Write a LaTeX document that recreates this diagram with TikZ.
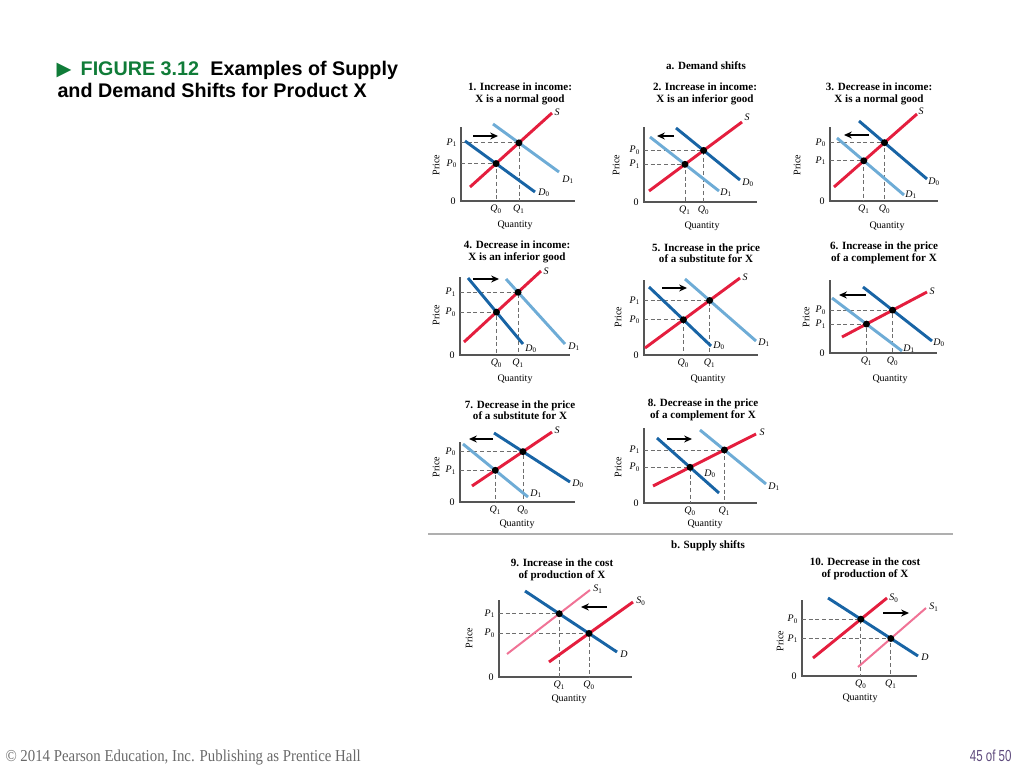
\documentclass[tikz,border=0pt]{standalone}
\usepackage{fontspec}
\setmainfont{Liberation Serif}
\newfontfamily\headfont{Liberation Sans}
\newfontfamily\symbolfont{DejaVu Sans}
\newcommand{\sublab}[2]{\textit{#1}\textsubscript{#2}}

\tikzset{every picture/.style={line width=0.75pt}}
\tikzset{
  axisline/.style={draw={rgb, 255:red, 85; green, 85; blue, 85}, line width=0.8},
  guide/.style={draw={rgb, 255:red, 110; green, 110; blue, 110}, line width=0.6, dash pattern={on 3pt off 2pt}},
  supplyline/.style={draw={rgb, 255:red, 228; green, 30; blue, 62}, line width=2.2},
  newsupply/.style={draw={rgb, 255:red, 240; green, 115; blue, 150}, line width=1.5},
  olddemand/.style={draw={rgb, 255:red, 24; green, 100; blue, 165}, line width=2.2},
  newdemand/.style={draw={rgb, 255:red, 110; green, 172; blue, 214}, line width=2.2},
  eqdot/.style={fill=black},
  lab/.style={font=\fontsize{7.5}{8}\selectfont, inner sep=0pt},
  plab/.style={lab, anchor=east, outer xsep=3pt},
  qlab/.style={lab, anchor=north, outer ysep=3pt},
  zerolab/.style={lab, anchor=east, outer xsep=4pt},
  charttitle/.style={font=\fontsize{8.3}{8.6}\selectfont\bfseries, align=center, inner sep=0pt},
  tipshape/.style={fill=black, line width=0.08, draw opacity=0},
}

\begin{document}
\begin{tikzpicture}[x=0.75pt,y=0.75pt,yscale=-1,xscale=1]
	\useasboundingbox (0,0) rectangle (1024,767);

	% Heading
	\node [anchor=base west, inner sep=0pt, font=\headfont\bfseries\fontsize{14.8}{17}\selectfont] (head1) at (56,75) {{\color[RGB]{16,124,56}{\symbolfont\fontsize{14.5}{14.5}\selectfont ▶}\hspace{7pt}FIGURE 3.12}\hspace{8.5pt}Examples of Supply};
	\node [anchor=base west, inner sep=0pt, font=\headfont\bfseries\fontsize{14.8}{17}\selectfont] (head2) at (57,98) {and Demand Shifts for Product X};

	% Section titles
	\node [charttitle] (secA) at (706,66) {a. Demand shifts};
	\node [charttitle] (secB) at (708,546) {b. Supply shifts};
	%Straight Lines (separator)
	\draw [draw={rgb, 255:red, 175; green, 175; blue, 175}, line width=1.5] (428,534) -- (953,534);

	%----- Panel 1
	\node [charttitle] (t1) at (520,94) {1. Increase in income:\\X is a normal good};
	\coordinate (o1) at (461,201);
	\draw [axisline] (461,127) -- (o1) -- (575,201);
	\coordinate (s1a) at (470,187); \coordinate (s1b) at (552,113);
	\coordinate (d1a) at (465,141); \coordinate (d1b) at (535,192);
	\coordinate (n1a) at (493,124); \coordinate (n1b) at (559,172);
	\coordinate (e1o) at (intersection of s1a--s1b and d1a--d1b);
	\coordinate (e1n) at (intersection of s1a--s1b and n1a--n1b);
	\draw [guide] (e1o -| o1) -- (e1o) -- (e1o |- o1);
	\draw [guide] (e1n -| o1) -- (e1n) -- (e1n |- o1);
	\draw [olddemand] (d1a) -- (d1b);
	\draw [newdemand] (n1a) -- (n1b);
	\draw [supplyline] (s1a) -- (s1b);
	\fill [eqdot] (e1o) circle (2.6pt);
	\fill [eqdot] (e1n) circle (2.6pt);
	\draw [line width=1.2] (473,136) -- (494,136);
	\draw [shift={(498,136)}, rotate = 180] [tipshape] (8,-3.6) -- (0,0) -- (8,3.6) -- (5.3,0) -- cycle;
	\node [plab] (p1o) at (e1o -| o1) {\sublab{P}{0}};
	\node [plab] (p1n) at (e1n -| o1) {\sublab{P}{1}};
	\node [qlab] (q1o) at (e1o |- o1) {\sublab{Q}{0}};
	\node [qlab] (q1n) at (e1n |- o1) {\sublab{Q}{1}};
	\node [zerolab] (z1) at (o1) {0};
	\node [lab, rotate=90] (y1) at (436,165) {Price};
	\node [lab] (x1) at (515,225) {Quantity};
	\node [lab] (ls1) at (557,112) {\textit{S}};
	\node [lab] (ld1o) at (544,193) {\sublab{D}{0}};
	\node [lab] (ld1n) at (568,180) {\sublab{D}{1}};

	%----- Panel 2
	\node [charttitle] (t2) at (705,94) {2. Increase in income:\\X is an inferior good};
	\coordinate (o2) at (644,202);
	\draw [axisline] (644,127) -- (o2) -- (757,202);
	\coordinate (s2a) at (649,191); \coordinate (s2b) at (742,122);
	\coordinate (d2a) at (676,128); \coordinate (d2b) at (740,180);
	\coordinate (n2a) at (650,137); \coordinate (n2b) at (719,191);
	\coordinate (e2o) at (intersection of s2a--s2b and d2a--d2b);
	\coordinate (e2n) at (intersection of s2a--s2b and n2a--n2b);
	\draw [guide] (e2o -| o2) -- (e2o) -- (e2o |- o2);
	\draw [guide] (e2n -| o2) -- (e2n) -- (e2n |- o2);
	\draw [olddemand] (d2a) -- (d2b);
	\draw [newdemand] (n2a) -- (n2b);
	\draw [supplyline] (s2a) -- (s2b);
	\fill [eqdot] (e2o) circle (2.6pt);
	\fill [eqdot] (e2n) circle (2.6pt);
	\draw [line width=1.2] (674,136) -- (661,136);
	\draw [shift={(657,136)}, rotate = 360] [tipshape] (8,-3.6) -- (0,0) -- (8,3.6) -- (5.3,0) -- cycle;
	\node [plab] (p2o) at (e2o -| o2) {\sublab{P}{0}};
	\node [plab] (p2n) at (e2n -| o2) {\sublab{P}{1}};
	\node [qlab] (q2o) at (e2o |- o2) {\sublab{Q}{0}};
	\node [qlab] (q2n) at (e2n |- o2) {\sublab{Q}{1}};
	\node [zerolab] (z2) at (o2) {0};
	\node [lab, rotate=90] (y2) at (616,165) {Price};
	\node [lab] (x2) at (702,226) {Quantity};
	\node [lab] (ls2) at (747,117) {\textit{S}};
	\node [lab] (ld2o) at (748,183) {\sublab{D}{0}};
	\node [lab] (ld2n) at (726,193) {\sublab{D}{1}};

	%----- Panel 3
	\node [charttitle] (t3) at (879,94) {3. Decrease in income:\\X is a normal good};
	\coordinate (o3) at (830,201);
	\draw [axisline] (830,127) -- (o3) -- (938,201);
	\coordinate (s3a) at (834,187); \coordinate (s3b) at (917,114);
	\coordinate (d3a) at (859,121); \coordinate (d3b) at (927,179);
	\coordinate (n3a) at (837,138); \coordinate (n3b) at (904,195);
	\coordinate (e3o) at (intersection of s3a--s3b and d3a--d3b);
	\coordinate (e3n) at (intersection of s3a--s3b and n3a--n3b);
	\draw [guide] (e3o -| o3) -- (e3o) -- (e3o |- o3);
	\draw [guide] (e3n -| o3) -- (e3n) -- (e3n |- o3);
	\draw [olddemand] (d3a) -- (d3b);
	\draw [newdemand] (n3a) -- (n3b);
	\draw [supplyline] (s3a) -- (s3b);
	\fill [eqdot] (e3o) circle (2.6pt);
	\fill [eqdot] (e3n) circle (2.6pt);
	\draw [line width=1.2] (869,135) -- (848,135);
	\draw [shift={(844,135)}, rotate = 360] [tipshape] (8,-3.6) -- (0,0) -- (8,3.6) -- (5.3,0) -- cycle;
	\node [plab] (p3o) at (e3o -| o3) {\sublab{P}{0}};
	\node [plab] (p3n) at (e3n -| o3) {\sublab{P}{1}};
	\node [qlab] (q3o) at (e3o |- o3) {\sublab{Q}{0}};
	\node [qlab] (q3n) at (e3n |- o3) {\sublab{Q}{1}};
	\node [zerolab] (z3) at (o3) {0};
	\node [lab, rotate=90] (y3) at (797,165) {Price};
	\node [lab] (x3) at (887,226) {Quantity};
	\node [lab] (ls3) at (921,111) {\textit{S}};
	\node [lab] (ld3o) at (934,182) {\sublab{D}{0}};
	\node [lab] (ld3n) at (911,195) {\sublab{D}{1}};

	%----- Panel 4
	\node [charttitle] (t4) at (517,252) {4. Decrease in income:\\X is an inferior good};
	\coordinate (o4) at (460,355);
	\draw [axisline] (460,277) -- (o4) -- (570,355);
	\coordinate (s4a) at (464,342); \coordinate (s4b) at (541,271);
	\coordinate (d4a) at (468,278); \coordinate (d4b) at (523,344);
	\coordinate (n4a) at (506,279); \coordinate (n4b) at (565,344);
	\coordinate (e4o) at (intersection of s4a--s4b and d4a--d4b);
	\coordinate (e4n) at (intersection of s4a--s4b and n4a--n4b);
	\draw [guide] (e4o -| o4) -- (e4o) -- (e4o |- o4);
	\draw [guide] (e4n -| o4) -- (e4n) -- (e4n |- o4);
	\draw [olddemand] (d4a) -- (d4b);
	\draw [newdemand] (n4a) -- (n4b);
	\draw [supplyline] (s4a) -- (s4b);
	\fill [eqdot] (e4o) circle (2.6pt);
	\fill [eqdot] (e4n) circle (2.6pt);
	\draw [line width=1.2] (473,279) -- (495,279);
	\draw [shift={(499,279)}, rotate = 180] [tipshape] (8,-3.6) -- (0,0) -- (8,3.6) -- (5.3,0) -- cycle;
	\node [plab] (p4o) at (e4o -| o4) {\sublab{P}{0}};
	\node [plab] (p4n) at (e4n -| o4) {\sublab{P}{1}};
	\node [qlab] (q4o) at (e4o |- o4) {\sublab{Q}{0}};
	\node [qlab] (q4n) at (e4n |- o4) {\sublab{Q}{1}};
	\node [zerolab] (z4) at (o4) {0};
	\node [lab, rotate=90] (y4) at (436,315) {Price};
	\node [lab] (x4) at (515,379) {Quantity};
	\node [lab] (ls4) at (546,271) {\textit{S}};
	\node [lab] (ld4o) at (531,349) {\sublab{D}{0}};
	\node [lab] (ld4n) at (574,347) {\sublab{D}{1}};

	%----- Panel 5
	\node [charttitle] (t5) at (706,253) {5. Increase in the price\\of a substitute for X};
	\coordinate (o5) at (644,355);
	\draw [axisline] (644,280) -- (o5) -- (758,355);
	\coordinate (s5a) at (645,348); \coordinate (s5b) at (740,278);
	\coordinate (d5a) at (649,287); \coordinate (d5b) at (711,346);
	\coordinate (n5a) at (685,279); \coordinate (n5b) at (756,341);
	\coordinate (e5o) at (intersection of s5a--s5b and d5a--d5b);
	\coordinate (e5n) at (intersection of s5a--s5b and n5a--n5b);
	\draw [guide] (e5o -| o5) -- (e5o) -- (e5o |- o5);
	\draw [guide] (e5n -| o5) -- (e5n) -- (e5n |- o5);
	\draw [olddemand] (d5a) -- (d5b);
	\draw [newdemand] (n5a) -- (n5b);
	\draw [supplyline] (s5a) -- (s5b);
	\fill [eqdot] (e5o) circle (2.6pt);
	\fill [eqdot] (e5n) circle (2.6pt);
	\draw [line width=1.2] (662,288) -- (683,288);
	\draw [shift={(687,288)}, rotate = 180] [tipshape] (8,-3.6) -- (0,0) -- (8,3.6) -- (5.3,0) -- cycle;
	\node [plab] (p5o) at (e5o -| o5) {\sublab{P}{0}};
	\node [plab] (p5n) at (e5n -| o5) {\sublab{P}{1}};
	\node [qlab] (q5o) at (e5o |- o5) {\sublab{Q}{0}};
	\node [qlab] (q5n) at (e5n |- o5) {\sublab{Q}{1}};
	\node [zerolab] (z5) at (o5) {0};
	\node [lab, rotate=90] (y5) at (618,317) {Price};
	\node [lab] (x5) at (708,379) {Quantity};
	\node [lab] (ls5) at (745,277) {\textit{S}};
	\node [lab] (ld5o) at (719,346) {\sublab{D}{0}};
	\node [lab] (ld5n) at (764,343) {\sublab{D}{1}};

	%----- Panel 6
	\node [charttitle] (t6) at (884,253) {6. Increase in the price\\of a complement for X};
	\coordinate (o6) at (830,353);
	\draw [axisline] (830,280) -- (o6) -- (937,353);
	\coordinate (s6a) at (842,337); \coordinate (s6b) at (927,292);
	\coordinate (d6a) at (863,287); \coordinate (d6b) at (932,341);
	\coordinate (n6a) at (832,298); \coordinate (n6b) at (902,351);
	\coordinate (e6o) at (intersection of s6a--s6b and d6a--d6b);
	\coordinate (e6n) at (intersection of s6a--s6b and n6a--n6b);
	\draw [guide] (e6o -| o6) -- (e6o) -- (e6o |- o6);
	\draw [guide] (e6n -| o6) -- (e6n) -- (e6n |- o6);
	\draw [olddemand] (d6a) -- (d6b);
	\draw [newdemand] (n6a) -- (n6b);
	\draw [supplyline] (s6a) -- (s6b);
	\fill [eqdot] (e6o) circle (2.6pt);
	\fill [eqdot] (e6n) circle (2.6pt);
	\draw [line width=1.2] (866,295) -- (843,295);
	\draw [shift={(839,295)}, rotate = 360] [tipshape] (8,-3.6) -- (0,0) -- (8,3.6) -- (5.3,0) -- cycle;
	\node [plab] (p6o) at (e6o -| o6) {\sublab{P}{0}};
	\node [plab] (p6n) at (e6n -| o6) {\sublab{P}{1}};
	\node [qlab] (q6o) at (e6o |- o6) {\sublab{Q}{0}};
	\node [qlab] (q6n) at (e6n |- o6) {\sublab{Q}{1}};
	\node [zerolab] (z6) at (o6) {0};
	\node [lab, rotate=90] (y6) at (806,317) {Price};
	\node [lab] (x6) at (890,379) {Quantity};
	\node [lab] (ls6) at (932,291) {\textit{S}};
	\node [lab] (ld6o) at (939,343) {\sublab{D}{0}};
	\node [lab] (ld6n) at (909,349) {\sublab{D}{1}};

	%----- Panel 7
	\node [charttitle] (t7) at (520,410) {7. Decrease in the price\\of a substitute for X};
	\coordinate (o7) at (460,502);
	\draw [axisline] (460,442) -- (o7) -- (575,502);
	\coordinate (s7a) at (472,486); \coordinate (s7b) at (552,432);
	\coordinate (d7a) at (494,433); \coordinate (d7b) at (570,482);
	\coordinate (n7a) at (463,444); \coordinate (n7b) at (528,497);
	\coordinate (e7o) at (intersection of s7a--s7b and d7a--d7b);
	\coordinate (e7n) at (intersection of s7a--s7b and n7a--n7b);
	\draw [guide] (e7o -| o7) -- (e7o) -- (e7o |- o7);
	\draw [guide] (e7n -| o7) -- (e7n) -- (e7n |- o7);
	\draw [olddemand] (d7a) -- (d7b);
	\draw [newdemand] (n7a) -- (n7b);
	\draw [supplyline] (s7a) -- (s7b);
	\fill [eqdot] (e7o) circle (2.6pt);
	\fill [eqdot] (e7n) circle (2.6pt);
	\draw [line width=1.2] (493,439) -- (473,439);
	\draw [shift={(469,439)}, rotate = 360] [tipshape] (8,-3.6) -- (0,0) -- (8,3.6) -- (5.3,0) -- cycle;
	\node [plab] (p7o) at (e7o -| o7) {\sublab{P}{0}};
	\node [plab] (p7n) at (e7n -| o7) {\sublab{P}{1}};
	\node [qlab] (q7o) at (e7o |- o7) {\sublab{Q}{0}};
	\node [qlab] (q7n) at (e7n |- o7) {\sublab{Q}{1}};
	\node [zerolab] (z7) at (o7) {0};
	\node [lab, rotate=90] (y7) at (436,467) {Price};
	\node [lab] (x7) at (517,524) {Quantity};
	\node [lab] (ls7) at (557,430) {\textit{S}};
	\node [lab] (ld7o) at (578,484) {\sublab{D}{0}};
	\node [lab] (ld7n) at (536,494) {\sublab{D}{1}};

	%----- Panel 8
	\node [charttitle] (t8) at (703,410) {8. Decrease in the price\\of a complement for X};
	\coordinate (o8) at (644,503);
	\draw [axisline] (644,428) -- (o8) -- (757,503);
	\coordinate (s8a) at (653,486); \coordinate (s8b) at (756,434);
	\coordinate (d8a) at (657,438); \coordinate (d8b) at (719,493);
	\coordinate (n8a) at (700,430); \coordinate (n8b) at (766,484);
	\coordinate (e8o) at (intersection of s8a--s8b and d8a--d8b);
	\coordinate (e8n) at (intersection of s8a--s8b and n8a--n8b);
	\draw [guide] (e8o -| o8) -- (e8o) -- (e8o |- o8);
	\draw [guide] (e8n -| o8) -- (e8n) -- (e8n |- o8);
	\draw [olddemand] (d8a) -- (d8b);
	\draw [newdemand] (n8a) -- (n8b);
	\draw [supplyline] (s8a) -- (s8b);
	\fill [eqdot] (e8o) circle (2.6pt);
	\fill [eqdot] (e8n) circle (2.6pt);
	\draw [line width=1.2] (667,439) -- (688,439);
	\draw [shift={(692,439)}, rotate = 180] [tipshape] (8,-3.6) -- (0,0) -- (8,3.6) -- (5.3,0) -- cycle;
	\node [plab] (p8o) at (e8o -| o8) {\sublab{P}{0}};
	\node [plab] (p8n) at (e8n -| o8) {\sublab{P}{1}};
	\node [qlab] (q8o) at (e8o |- o8) {\sublab{Q}{0}};
	\node [qlab] (q8n) at (e8n |- o8) {\sublab{Q}{1}};
	\node [zerolab] (z8) at (o8) {0};
	\node [lab, rotate=90] (y8) at (618,467) {Price};
	\node [lab] (x8) at (705,524) {Quantity};
	\node [lab] (ls8) at (762,432) {\textit{S}};
	\node [lab] (ld8o) at (710,474) {\sublab{D}{0}};
	\node [lab] (ld8n) at (774,487) {\sublab{D}{1}};

	%----- Panel 9
	\node [charttitle] (t9) at (562,570) {9. Increase in the cost\\of production of X};
	\coordinate (o9) at (499,677);
	\draw [axisline] (499,600) -- (o9) -- (632,677);
	\coordinate (s9a) at (549,662); \coordinate (s9b) at (633,602);
	\coordinate (m9a) at (507,654); \coordinate (m9b) at (590,590);
	\coordinate (d9a) at (525,591); \coordinate (d9b) at (617,652);
	\coordinate (e9o) at (intersection of s9a--s9b and d9a--d9b);
	\coordinate (e9n) at (intersection of m9a--m9b and d9a--d9b);
	\draw [guide] (e9o -| o9) -- (e9o) -- (e9o |- o9);
	\draw [guide] (e9n -| o9) -- (e9n) -- (e9n |- o9);
	\draw [newsupply] (m9a) -- (m9b);
	\draw [supplyline] (s9a) -- (s9b);
	\draw [olddemand] (d9a) -- (d9b);
	\fill [eqdot] (e9o) circle (2.6pt);
	\fill [eqdot] (e9n) circle (2.6pt);
	\draw [line width=1.2] (607,607) -- (585,607);
	\draw [shift={(581,607)}, rotate = 360] [tipshape] (8,-3.6) -- (0,0) -- (8,3.6) -- (5.3,0) -- cycle;
	\node [plab] (p9o) at (e9o -| o9) {\sublab{P}{0}};
	\node [plab] (p9n) at (e9n -| o9) {\sublab{P}{1}};
	\node [qlab] (q9o) at (e9o |- o9) {\sublab{Q}{0}};
	\node [qlab] (q9n) at (e9n |- o9) {\sublab{Q}{1}};
	\node [zerolab] (z9) at (o9) {0};
	\node [lab, rotate=90] (y9) at (469,638) {Price};
	\node [lab] (x9) at (569,699) {Quantity};
	\node [lab] (ls9o) at (641,601) {\sublab{S}{0}};
	\node [lab] (ls9n) at (598,589) {\sublab{S}{1}};
	\node [lab] (ld9) at (624,654) {\textit{D}};

	%----- Panel 10
	\node [charttitle] (t10) at (865,569) {10. Decrease in the cost\\of production of X};
	\coordinate (o10) at (802,676);
	\draw [axisline] (802,600) -- (o10) -- (917,676);
	\coordinate (s10a) at (813,658); \coordinate (s10b) at (887,598);
	\coordinate (m10a) at (858,667); \coordinate (m10b) at (926,608);
	\coordinate (d10a) at (828,598); \coordinate (d10b) at (918,656);
	\coordinate (e10o) at (intersection of s10a--s10b and d10a--d10b);
	\coordinate (e10n) at (intersection of m10a--m10b and d10a--d10b);
	\draw [guide] (e10o -| o10) -- (e10o) -- (e10o |- o10);
	\draw [guide] (e10n -| o10) -- (e10n) -- (e10n |- o10);
	\draw [newsupply] (m10a) -- (m10b);
	\draw [supplyline] (s10a) -- (s10b);
	\draw [olddemand] (d10a) -- (d10b);
	\fill [eqdot] (e10o) circle (2.6pt);
	\fill [eqdot] (e10n) circle (2.6pt);
	\draw [line width=1.2] (883,613) -- (905,613);
	\draw [shift={(909,613)}, rotate = 180] [tipshape] (8,-3.6) -- (0,0) -- (8,3.6) -- (5.3,0) -- cycle;
	\node [plab] (p10o) at (e10o -| o10) {\sublab{P}{0}};
	\node [plab] (p10n) at (e10n -| o10) {\sublab{P}{1}};
	\node [qlab] (q10o) at (e10o |- o10) {\sublab{Q}{0}};
	\node [qlab] (q10n) at (e10n |- o10) {\sublab{Q}{1}};
	\node [zerolab] (z10) at (o10) {0};
	\node [lab, rotate=90] (y10) at (780,641) {Price};
	\node [lab] (x10) at (860,698) {Quantity};
	\node [lab] (ls10o) at (894,598) {\sublab{S}{0}};
	\node [lab] (ls10n) at (934,607) {\sublab{S}{1}};
	\node [lab] (ld10) at (925,657) {\textit{D}};

	% Footer
	\node [anchor=base west, inner sep=0pt, text={rgb, 255:red, 105; green, 105; blue, 105}, font=\fontsize{12.5}{14}\selectfont] (foot) at (5,761) {\scalebox{0.89}[1]{© 2014 Pearson Education, Inc. Publishing as Prentice Hall}};
	\node [anchor=base east, inner sep=0pt, text={rgb, 255:red, 95; green, 75; blue, 125}, font=\headfont\fontsize{12}{12}\selectfont] (pagenum) at (1012,761) {\scalebox{0.72}[1]{45 of 50}};

\end{tikzpicture}
\end{document}
